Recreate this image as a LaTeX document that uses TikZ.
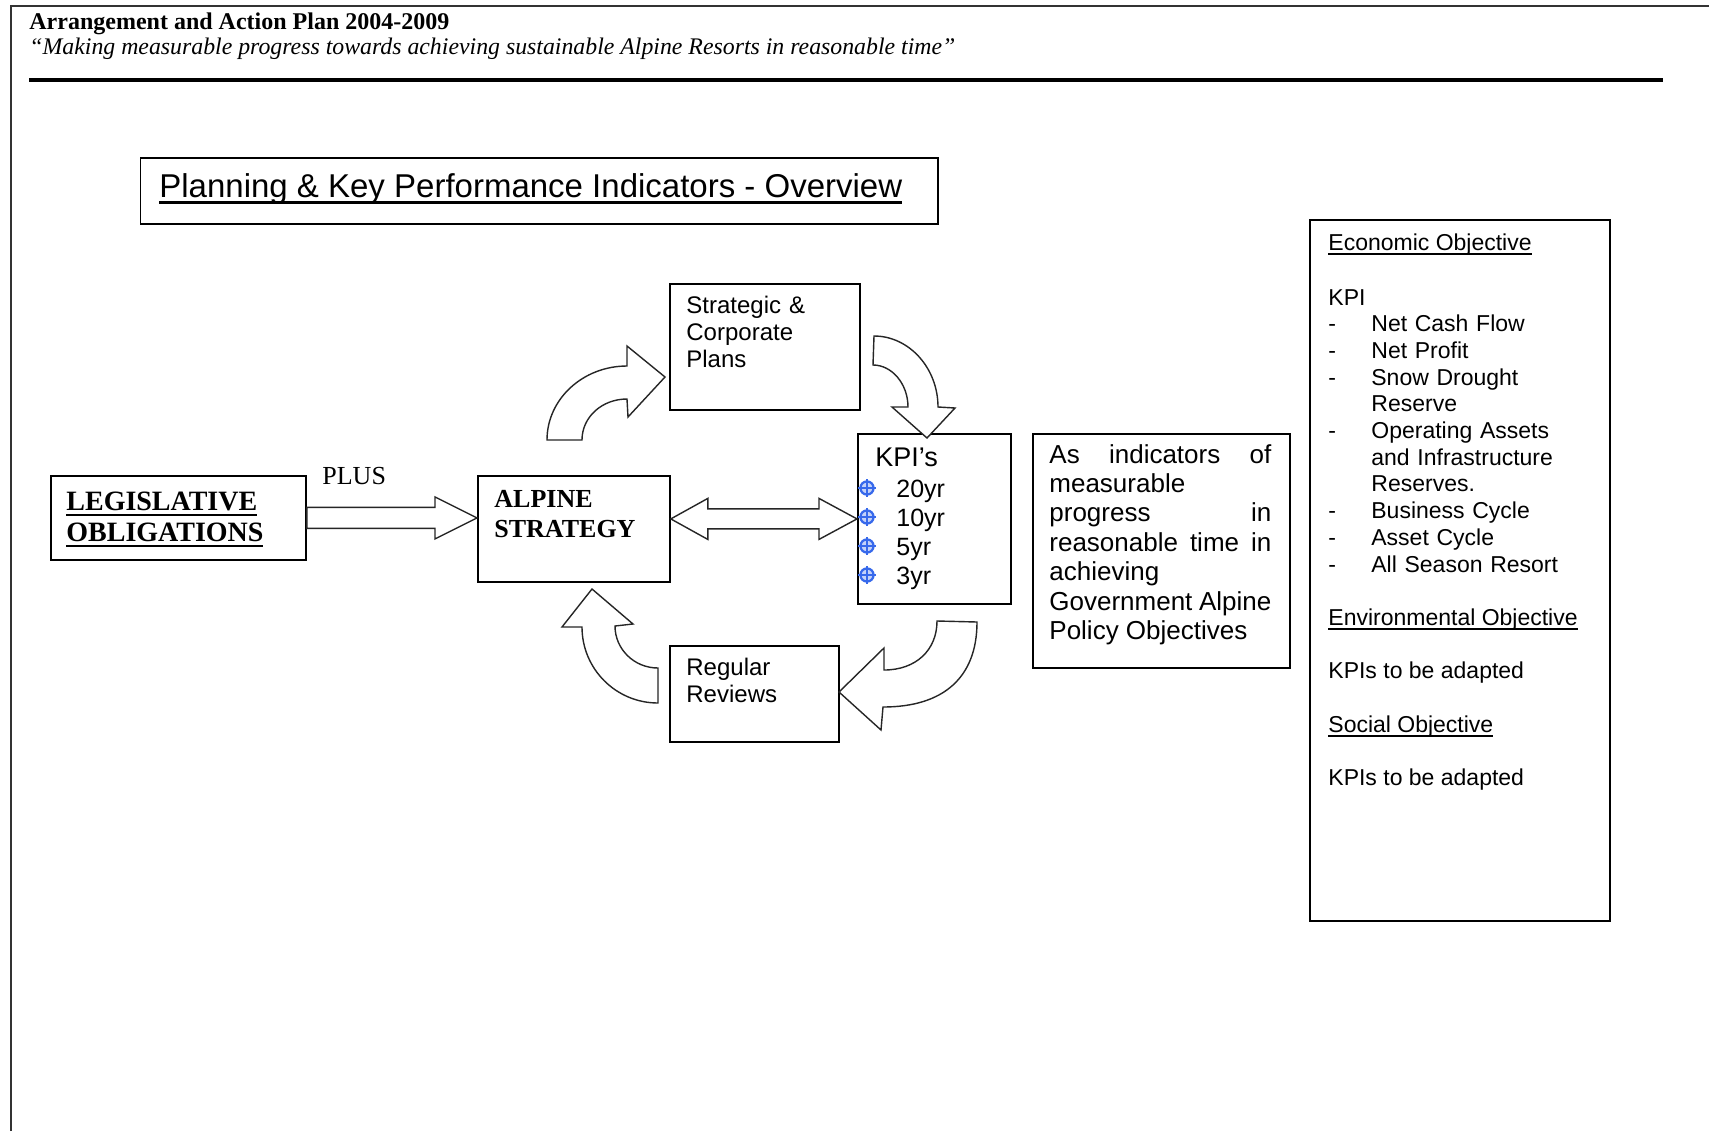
\documentclass[tikz,border=0pt]{standalone}
\usepackage{fontspec}
\setmainfont{Liberation Serif}
\setsansfont{Liberation Sans}
\usetikzlibrary{calc}
\definecolor{bulletblue}{RGB}{55,105,235}
\tikzstyle{box}=[draw,line width=0.9pt,inner sep=0pt,anchor=north west]
\tikzstyle{txt}=[anchor=base west,inner sep=0pt,align=left]
\tikzstyle{block} = [draw=black!85,line width=0.7pt,fill=white]
\tikzstyle{kpibullet} = [draw=bulletblue,line width=1.1pt]
\newcommand{\fsz}[2]{\fontsize{#1}{#2}\selectfont}
\newcommand{\ulx}[1]{\leavevmode\setbox0=\hbox{#1}\rlap{\rule[-0.2em]{\wd0}{0.07em}}\box0}
\newcommand{\kpidash}{\makebox[21.5pt][l]{-}}
\newcommand{\kpiindent}{\hspace*{21.5pt}}

\begin{document}
\begin{tikzpicture}[x=0.5pt,y=-0.5pt]
    \fill[white] (0,0) rectangle (1709,1131);
    \useasboundingbox (0,0) rectangle (1709,1131);
    % page frame and header
    \draw[black!80,line width=0.8pt] (11,1131) -- (11,6) -- (1709,6);
    \node[txt,font=\bfseries\fsz{12}{14}] (head) at (29,29) {Arrangement and Action Plan 2004-2009};
    \node[txt,font=\itshape\fsz{11.9}{14}] (motto) at (29,54) {“Making measurable progress towards achieving sustainable Alpine Resorts in reasonable time”};
    \draw[line width=1.6pt] (29,80) -- (1663,80);
    % the boxes
    \node[box,minimum width=398.75pt,minimum height=33pt] (title) at (139.5,157) {};
    \node[box,minimum width=127.5pt,minimum height=42pt] (leg) at (50,475) {};
    \node[box,minimum width=96pt,minimum height=53pt] (alp) at (477,475) {};
    \node[box,minimum width=95pt,minimum height=63pt] (plans) at (669,283) {};
    \node[box,minimum width=76.5pt,minimum height=85pt] (kpi) at (857,433) {};
    \node[box,minimum width=128.5pt,minimum height=117pt] (ind) at (1032,433) {};
    \node[box,minimum width=150pt,minimum height=350.5pt] (obj) at (1309,219) {};
    \node[box,minimum width=84.5pt,minimum height=48pt] (rev) at (669,645) {};
    % their texts
    \node[txt,font=\sffamily\fsz{16.5}{18}] (titletext) at (159,197) {\ulx{Planning \& Key Performance Indicators - Overview}};
    \node[txt,text width=120pt,font=\bfseries\fsz{14}{15.9}] (legtext) at (66,510) {\ulx{LEGISLATIVE}\\\ulx{OBLIGATIONS}};
    \node[txt,font=\fsz{13}{15}] (plus) at (322,484) {PLUS};
    \node[txt,text width=85pt,font=\bfseries\fsz{13}{15}] (alptext) at (494,507) {ALPINE\\STRATEGY};
    \node[txt,text width=80pt,font=\sffamily\fsz{12}{13.6}] (planstext) at (686,313) {Strategic \&\\Corporate\\Plans};
    \node[txt,text width=75pt,font=\sffamily\fsz{12}{13.6}] (revtext) at (686,675) {Regular\\Reviews};
    \node[txt,font=\sffamily\fsz{13.5}{15}] (kpititle) at (875,466) {KPI’s};
    \foreach \y/\yrs in {497/20yr,526/10yr,555/5yr,584/3yr}
        \node[txt,font=\sffamily\fsz{12.5}{14}] (k\yrs) at (896,\y) {\yrs};
    \node[txt,text width=111pt,align=justify,font=\sffamily\fsz{13}{14.7}] (indtext) at (1049,463)
        {As\hfill indicators\hfill of\\ measurable\\ progress\hfill in\\ reasonable\hfill time\hfill in\\ achieving\\ Government Alpine\\ Policy Objectives};
    \node[txt,font=\sffamily\fsz{11.5}{13.35}] (econ) at (1328,250) {\ulx{Economic Objective}};
    \node[txt,text width=140pt,font=\sffamily\fsz{11.5}{13.35}] (econkpi) at (1328,305)
        {KPI\\ \kpidash Net Cash Flow\\ \kpidash Net Profit\\ \kpidash Snow Drought\\ \kpiindent Reserve\\
         \kpidash Operating Assets\\ \kpiindent and Infrastructure\\ \kpiindent Reserves.\\
         \kpidash Business Cycle\\ \kpidash Asset Cycle\\ \kpidash All Season Resort};
    \node[txt,font=\sffamily\fsz{11.5}{13.35}] (env) at (1328,625) {\ulx{Environmental Objective}};
    \node[txt,font=\sffamily\fsz{11.5}{13.35}] (envkpi) at (1328,678) {KPIs to be adapted};
    \node[txt,font=\sffamily\fsz{11.5}{13.35}] (soc) at (1328,732) {\ulx{Social Objective}};
    \node[txt,font=\sffamily\fsz{11.5}{13.35}] (sockpi) at (1328,785) {KPIs to be adapted};
    % straight block arrows
    \coordinate (legtip) at (alp.west |- leg.east);
    \path[block] ($(leg.east)+(0,-10.5)$) -- ($(legtip)+(-42,-10.5)$) -- ($(legtip)+(-42,-21)$) -- (legtip)
        -- ($(legtip)+(-42,21)$) -- ($(legtip)+(-42,10.5)$) -- ($(leg.east)+(0,10.5)$) -- cycle;
    \coordinate (alptip) at (alp.east |- kpi.west);
    \path[block] (alptip) -- ($(alptip)+(37,-20.5)$) -- ($(alptip)+(37,-10)$) -- ($(kpi.west)+(-38,-10)$)
        -- ($(kpi.west)+(-38,-20.5)$) -- (kpi.west) -- ($(kpi.west)+(-38,20.5)$) -- ($(kpi.west)+(-38,10)$)
        -- ($(alptip)+(37,10)$) -- ($(alptip)+(37,20.5)$) -- cycle;
    % curved block arrows of the cycle
    \path[block] (547,440) .. controls (547,399) and (583,366) .. (627,366) -- (627,346) -- (665,377) -- (628,417)
        -- (627,399) .. controls (602,399) and (582,417) .. (582,440) -- cycle;
    \path[block] (874,336) .. controls (909,336) and (938,368) .. (938,407) -- (955,408) -- (927,438) -- (892,407)
        -- (908,407) .. controls (908,384) and (892,365) .. (873,365) -- cycle;
    \path[block] (977,622) .. controls (977,677) and (944,707) .. (883,707) -- (881,730) -- (839,692) -- (884,648)
        -- (884,670) .. controls (916,670) and (937,650) .. (937,621) -- cycle;
    \path[block] (658,703) .. controls (616,703) and (582,669) .. (582,627) -- (562,627) -- (592,589) -- (633,624)
        -- (615,626) .. controls (615,649) and (634,668) .. (658,668) -- cycle;
    % blue bullets of the KPI list
    \foreach \y in {488,517,546,575} {
        \draw[kpibullet,fill=bulletblue!30] (867,\y) circle (3.3pt);
        \draw[kpibullet] (858,\y) -- (876,\y) (867,\y-9) -- (867,\y+9);
    }
\end{tikzpicture}
\end{document}
